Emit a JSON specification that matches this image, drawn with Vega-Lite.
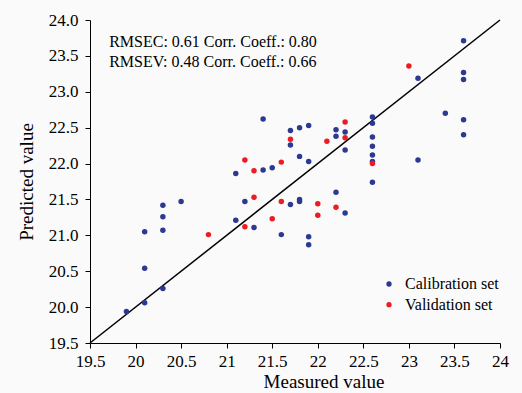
{
  "$schema": "https://vega.github.io/schema/vega-lite/v6.json",
  "width": 410,
  "height": 323,
  "autosize": "none",
  "padding": {"left": 90, "top": 20, "right": 22, "bottom": 50},
  "background": "#fafafa",
  "config": {
    "view": {"stroke": null},
    "font": "Liberation Serif",
    "axis": {
      "grid": false, "domainColor": "#000000", "tickColor": "#000000", "labelColor": "#000000", "titleColor": "#000000",
      "labelFont": "Liberation Serif", "titleFont": "Liberation Serif",
      "labelFontSize": 17, "labelFontWeight": "normal", "titleFontSize": 19, "titleFontWeight": "normal", "tickSize": 5, "labelOverlap": false, "labelFlush": false
    }
  },
  "datasets": {
    "points": [
      {"measured": 19.9, "predicted": 19.94, "set": "Calibration set"},
      {"measured": 20.1, "predicted": 20.06, "set": "Calibration set"},
      {"measured": 20.1, "predicted": 20.54, "set": "Calibration set"},
      {"measured": 20.1, "predicted": 21.05, "set": "Calibration set"},
      {"measured": 20.3, "predicted": 20.26, "set": "Calibration set"},
      {"measured": 20.3, "predicted": 21.07, "set": "Calibration set"},
      {"measured": 20.3, "predicted": 21.26, "set": "Calibration set"},
      {"measured": 20.3, "predicted": 21.42, "set": "Calibration set"},
      {"measured": 20.5, "predicted": 21.47, "set": "Calibration set"},
      {"measured": 21.1, "predicted": 21.21, "set": "Calibration set"},
      {"measured": 21.1, "predicted": 21.86, "set": "Calibration set"},
      {"measured": 21.2, "predicted": 21.47, "set": "Calibration set"},
      {"measured": 21.3, "predicted": 21.11, "set": "Calibration set"},
      {"measured": 21.4, "predicted": 22.62, "set": "Calibration set"},
      {"measured": 21.4, "predicted": 21.91, "set": "Calibration set"},
      {"measured": 21.5, "predicted": 21.94, "set": "Calibration set"},
      {"measured": 21.6, "predicted": 21.01, "set": "Calibration set"},
      {"measured": 21.7, "predicted": 22.46, "set": "Calibration set"},
      {"measured": 21.7, "predicted": 22.26, "set": "Calibration set"},
      {"measured": 21.7, "predicted": 21.43, "set": "Calibration set"},
      {"measured": 21.8, "predicted": 22.5, "set": "Calibration set"},
      {"measured": 21.8, "predicted": 22.1, "set": "Calibration set"},
      {"measured": 21.8, "predicted": 21.5, "set": "Calibration set"},
      {"measured": 21.8, "predicted": 21.47, "set": "Calibration set"},
      {"measured": 21.9, "predicted": 22.53, "set": "Calibration set"},
      {"measured": 21.9, "predicted": 22.03, "set": "Calibration set"},
      {"measured": 21.9, "predicted": 20.98, "set": "Calibration set"},
      {"measured": 21.9, "predicted": 20.87, "set": "Calibration set"},
      {"measured": 22.2, "predicted": 22.47, "set": "Calibration set"},
      {"measured": 22.2, "predicted": 22.38, "set": "Calibration set"},
      {"measured": 22.2, "predicted": 21.6, "set": "Calibration set"},
      {"measured": 22.3, "predicted": 22.44, "set": "Calibration set"},
      {"measured": 22.3, "predicted": 22.19, "set": "Calibration set"},
      {"measured": 22.3, "predicted": 21.31, "set": "Calibration set"},
      {"measured": 22.6, "predicted": 22.65, "set": "Calibration set"},
      {"measured": 22.6, "predicted": 22.56, "set": "Calibration set"},
      {"measured": 22.6, "predicted": 22.37, "set": "Calibration set"},
      {"measured": 22.6, "predicted": 22.24, "set": "Calibration set"},
      {"measured": 22.6, "predicted": 22.12, "set": "Calibration set"},
      {"measured": 22.6, "predicted": 22.03, "set": "Calibration set"},
      {"measured": 22.6, "predicted": 21.74, "set": "Calibration set"},
      {"measured": 23.1, "predicted": 23.19, "set": "Calibration set"},
      {"measured": 23.1, "predicted": 22.05, "set": "Calibration set"},
      {"measured": 23.4, "predicted": 22.7, "set": "Calibration set"},
      {"measured": 23.6, "predicted": 23.71, "set": "Calibration set"},
      {"measured": 23.6, "predicted": 23.27, "set": "Calibration set"},
      {"measured": 23.6, "predicted": 23.17, "set": "Calibration set"},
      {"measured": 23.6, "predicted": 22.61, "set": "Calibration set"},
      {"measured": 23.6, "predicted": 22.4, "set": "Calibration set"},
      {"measured": 20.8, "predicted": 21.01, "set": "Validation set"},
      {"measured": 21.2, "predicted": 22.05, "set": "Validation set"},
      {"measured": 21.2, "predicted": 21.12, "set": "Validation set"},
      {"measured": 21.3, "predicted": 21.9, "set": "Validation set"},
      {"measured": 21.3, "predicted": 21.53, "set": "Validation set"},
      {"measured": 21.5, "predicted": 21.23, "set": "Validation set"},
      {"measured": 21.6, "predicted": 22.02, "set": "Validation set"},
      {"measured": 21.6, "predicted": 21.47, "set": "Validation set"},
      {"measured": 21.7, "predicted": 22.34, "set": "Validation set"},
      {"measured": 22.0, "predicted": 21.44, "set": "Validation set"},
      {"measured": 22.0, "predicted": 21.28, "set": "Validation set"},
      {"measured": 22.1, "predicted": 22.31, "set": "Validation set"},
      {"measured": 22.2, "predicted": 21.39, "set": "Validation set"},
      {"measured": 22.3, "predicted": 22.58, "set": "Validation set"},
      {"measured": 22.3, "predicted": 22.36, "set": "Validation set"},
      {"measured": 22.6, "predicted": 22.0, "set": "Validation set"},
      {"measured": 23.0, "predicted": 23.36, "set": "Validation set"}
    ],
    "diag": [{"measured": 19.5, "predicted": 19.5, "measured_end": 24, "predicted_end": 24}],
    "notes": [
      {"measured": 19.71, "predicted": 23.617, "text": "RMSEC: 0.61 Corr. Coeff.: 0.80"},
      {"measured": 19.71, "predicted": 23.345, "text": "RMSEV: 0.48 Corr. Coeff.: 0.66"}
    ]
  },
  "encoding": {
    "x": {"field": "measured", "type": "quantitative", "scale": {"domain": [19.5, 24], "nice": false, "zero": false},
      "axis": {"title": "Measured value", "values": [19.5, 20, 20.5, 21, 21.5, 22, 22.5, 23, 23.5, 24], "format": "~g",
        "labelBaseline": "alphabetic", "labelPadding": 18.5, "titleX": 233.5, "titleY": 44, "titleBaseline": "alphabetic", "titleAnchor": "middle", "titleAlign": "center"}},
    "y": {"field": "predicted", "type": "quantitative", "scale": {"domain": [19.5, 24], "nice": false, "zero": false},
      "axis": {"title": "Predicted value", "values": [19.5, 20, 20.5, 21, 21.5, 22, 22.5, 23, 23.5, 24], "format": ".1f",
        "labelPadding": 7, "titleX": -57.5, "titleY": 161.5, "titleBaseline": "alphabetic", "titleAnchor": "middle", "titleAlign": "center"}}
  },
  "layer": [
    {
      "data": {"name": "diag"},
      "mark": {"type": "rule", "color": "#000000", "strokeWidth": 1.5},
      "encoding": {
        "x2": {"field": "measured_end"},
        "y2": {"field": "predicted_end"}
      }
    },
    {
      "data": {"name": "points"},
      "mark": {"type": "point", "filled": true, "size": 30, "opacity": 1},
      "encoding": {
        "color": {"field": "set", "type": "nominal",
          "scale": {"domain": ["Calibration set", "Validation set"], "range": ["#2b3990", "#ed1c24"]},
          "legend": {"orient": "none", "legendX": 291, "legendY": 256, "title": null, "labelFontSize": 16, "labelFont": "Liberation Serif", "labelFontWeight": "normal", "labelColor": "#000000", "symbolType": "circle", "symbolSize": 28, "labelOffset": 8, "rowPadding": 4.7, "padding": 0}}
      }
    },
    {
      "data": {"name": "notes"},
      "mark": {"type": "text", "align": "left", "baseline": "alphabetic", "fontSize": 16, "font": "Liberation Serif", "fontWeight": "normal", "color": "#000000"},
      "encoding": {
        "text": {"field": "text"}
      }
    }
  ]
}
